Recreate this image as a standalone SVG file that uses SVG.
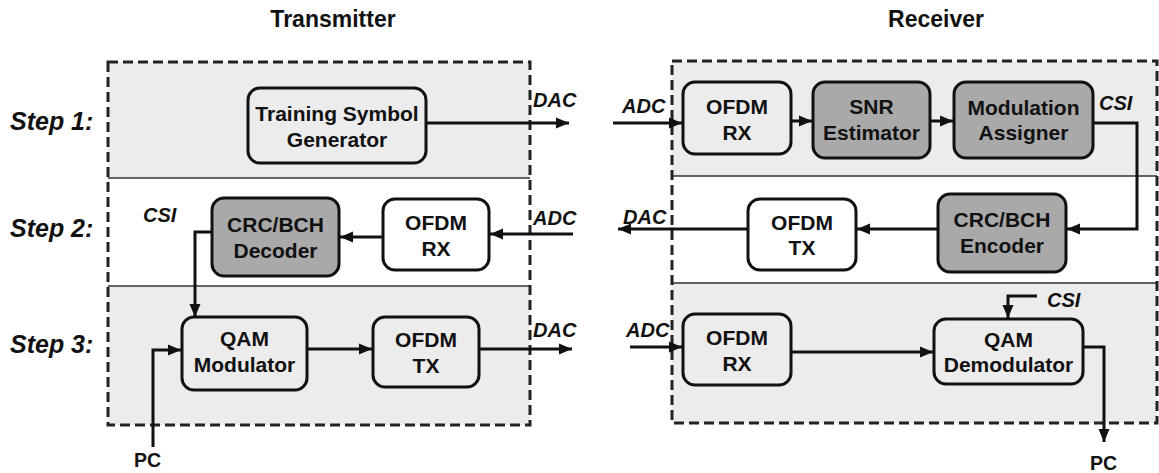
<svg xmlns="http://www.w3.org/2000/svg" width="1159" height="473" viewBox="0 0 1159 473">
  <defs>
    <marker id="arrow" markerUnits="userSpaceOnUse" markerWidth="14" markerHeight="12" refX="13" refY="6" orient="auto">
      <path d="M0,0.5 L13,6 L0,11.5 Z" fill="#111"/>
    </marker>
  </defs>
  <style>
    .panel { fill: #ececec; stroke: none; }
    .sep { stroke: #333; stroke-width: 1.5; fill: none; }
    .frame { fill: none; stroke: #222; stroke-width: 3; stroke-dasharray: 10 5; }
    .box { stroke: #111; stroke-width: 3; }
    .light { fill: #ececec; }
    .white { fill: #ffffff; }
    .dark { fill: #a9a9a9; }
    .t { font-family: "Liberation Sans", Arial, sans-serif; font-weight: bold; font-size: 21px; fill: #111; text-anchor: middle; }
    .title { font-family: "Liberation Sans", Arial, sans-serif; font-weight: bold; font-size: 23px; fill: #111; text-anchor: middle; }
    .step { font-family: "Liberation Sans", Arial, sans-serif; font-weight: bold; font-style: italic; font-size: 25px; fill: #111; }
    .sig { font-family: "Liberation Sans", Arial, sans-serif; font-weight: bold; font-style: italic; font-size: 20px; fill: #111; }
    .pc { font-family: "Liberation Sans", Arial, sans-serif; font-weight: bold; font-size: 19.5px; fill: #111; }
    .wire { fill: none; stroke: #111; stroke-width: 3; }
  </style>

  <!-- section titles -->
  <text class="title" x="333" y="27">Transmitter</text>
  <text class="title" x="936" y="27">Receiver</text>

  <!-- step labels -->
  <text class="step" x="10" y="130">Step 1:</text>
  <text class="step" x="10" y="237">Step 2:</text>
  <text class="step" x="10" y="353">Step 3:</text>

  <!-- transmitter frame -->
  <g id="tx-frame">
    <rect class="panel" x="108" y="62" width="422" height="116"/>
    <rect class="panel" x="108" y="286" width="422" height="139"/>
    <line class="sep" x1="108" y1="178" x2="530" y2="178"/>
    <line class="sep" x1="108" y1="286" x2="530" y2="286"/>
    <rect class="frame" x="108" y="62" width="422" height="363"/>
  </g>

  <!-- receiver frame -->
  <g id="rx-frame">
    <rect class="panel" x="672" y="61" width="485" height="115"/>
    <rect class="panel" x="672" y="283" width="485" height="140"/>
    <line class="sep" x1="672" y1="176" x2="1157" y2="176"/>
    <line class="sep" x1="672" y1="283" x2="1157" y2="283"/>
    <rect class="frame" x="672" y="61" width="485" height="362"/>
  </g>

  <!-- transmitter blocks -->
  <g id="training-gen">
    <rect class="box light" x="248" y="88" width="178" height="75" rx="12"/>
    <text class="t" x="337" y="121">Training Symbol</text>
    <text class="t" x="337" y="147">Generator</text>
  </g>
  <g id="crc-decoder">
    <rect class="box dark" x="212" y="198" width="127" height="78" rx="12"/>
    <text class="t" x="275.5" y="232">CRC/BCH</text>
    <text class="t" x="275.5" y="258">Decoder</text>
  </g>
  <g id="tx-ofdm-rx">
    <rect class="box white" x="383" y="199" width="106" height="71" rx="12"/>
    <text class="t" x="436" y="230">OFDM</text>
    <text class="t" x="436" y="256">RX</text>
  </g>
  <g id="qam-mod">
    <rect class="box light" x="182" y="317" width="125" height="73" rx="12"/>
    <text class="t" x="244.5" y="346">QAM</text>
    <text class="t" x="244.5" y="372">Modulator</text>
  </g>
  <g id="tx-ofdm-tx">
    <rect class="box light" x="373" y="317" width="106" height="70" rx="12"/>
    <text class="t" x="426" y="347">OFDM</text>
    <text class="t" x="426" y="373">TX</text>
  </g>

  <!-- receiver blocks -->
  <g id="rx-ofdm-rx1">
    <rect class="box light" x="683" y="82" width="108" height="72" rx="12"/>
    <text class="t" x="737" y="114">OFDM</text>
    <text class="t" x="737" y="140">RX</text>
  </g>
  <g id="snr-est">
    <rect class="box dark" x="813" y="82" width="117" height="76" rx="12"/>
    <text class="t" x="871.5" y="114">SNR</text>
    <text class="t" x="871.5" y="140">Estimator</text>
  </g>
  <g id="mod-assigner">
    <rect class="box dark" x="954" y="82" width="139" height="76" rx="12"/>
    <text class="t" x="1023.5" y="115">Modulation</text>
    <text class="t" x="1023.5" y="140">Assigner</text>
  </g>
  <g id="crc-encoder">
    <rect class="box dark" x="938" y="194" width="128" height="78" rx="12"/>
    <text class="t" x="1002" y="227">CRC/BCH</text>
    <text class="t" x="1002" y="253">Encoder</text>
  </g>
  <g id="rx-ofdm-tx">
    <rect class="box white" x="748" y="199" width="108" height="71" rx="12"/>
    <text class="t" x="802" y="230">OFDM</text>
    <text class="t" x="802" y="255">TX</text>
  </g>
  <g id="rx-ofdm-rx3">
    <rect class="box light" x="683" y="314" width="108" height="71" rx="12"/>
    <text class="t" x="737" y="345">OFDM</text>
    <text class="t" x="737" y="371">RX</text>
  </g>
  <g id="qam-demod">
    <rect class="box light" x="934" y="319" width="149" height="65" rx="12"/>
    <text class="t" x="1008.5" y="347">QAM</text>
    <text class="t" x="1008.5" y="372">Demodulator</text>
  </g>

  <!-- connectors -->
  <g id="connectors">
    <path class="wire" d="M426,123 H569" marker-end="url(#arrow)"/>
    <path class="wire" d="M573,234 H490" marker-end="url(#arrow)"/>
    <path class="wire" d="M383,237 H340" marker-end="url(#arrow)"/>
    <path class="wire" d="M212,232 H195 V317" marker-end="url(#arrow)"/>
    <path class="wire" d="M153,447 V350 H181" marker-end="url(#arrow)"/>
    <path class="wire" d="M307,349 H372" marker-end="url(#arrow)"/>
    <path class="wire" d="M479,349 H572" marker-end="url(#arrow)"/>

    <path class="wire" d="M613,123 H682" marker-end="url(#arrow)"/>
    <path class="wire" d="M791,121 H812" marker-end="url(#arrow)"/>
    <path class="wire" d="M930,121 H953" marker-end="url(#arrow)"/>
    <path class="wire" d="M1093,123 H1137 V229 H1067" marker-end="url(#arrow)"/>
    <path class="wire" d="M938,229 H857" marker-end="url(#arrow)"/>
    <path class="wire" d="M748,229 H618" marker-end="url(#arrow)"/>
    <path class="wire" d="M630,347 H682" marker-end="url(#arrow)"/>
    <path class="wire" d="M791,352 H933" marker-end="url(#arrow)"/>
    <path class="wire" d="M1037,296 H1008 V318" marker-end="url(#arrow)"/>
    <path class="wire" d="M1083,347 H1104 V442" marker-end="url(#arrow)"/>
  </g>

  <!-- signal labels -->
  <text class="sig" x="533" y="107">DAC</text>
  <text class="sig" x="533" y="225">ADC</text>
  <text class="sig" x="533" y="337">DAC</text>
  <text class="sig" x="143" y="222">CSI</text>
  <text class="sig" x="622" y="113">ADC</text>
  <text class="sig" x="1099" y="110">CSI</text>
  <text class="sig" x="623" y="224">DAC</text>
  <text class="sig" x="626" y="337">ADC</text>
  <text class="sig" x="1047" y="307">CSI</text>
  <text class="pc" x="134" y="467">PC</text>
  <text class="pc" x="1090" y="470">PC</text>
</svg>
